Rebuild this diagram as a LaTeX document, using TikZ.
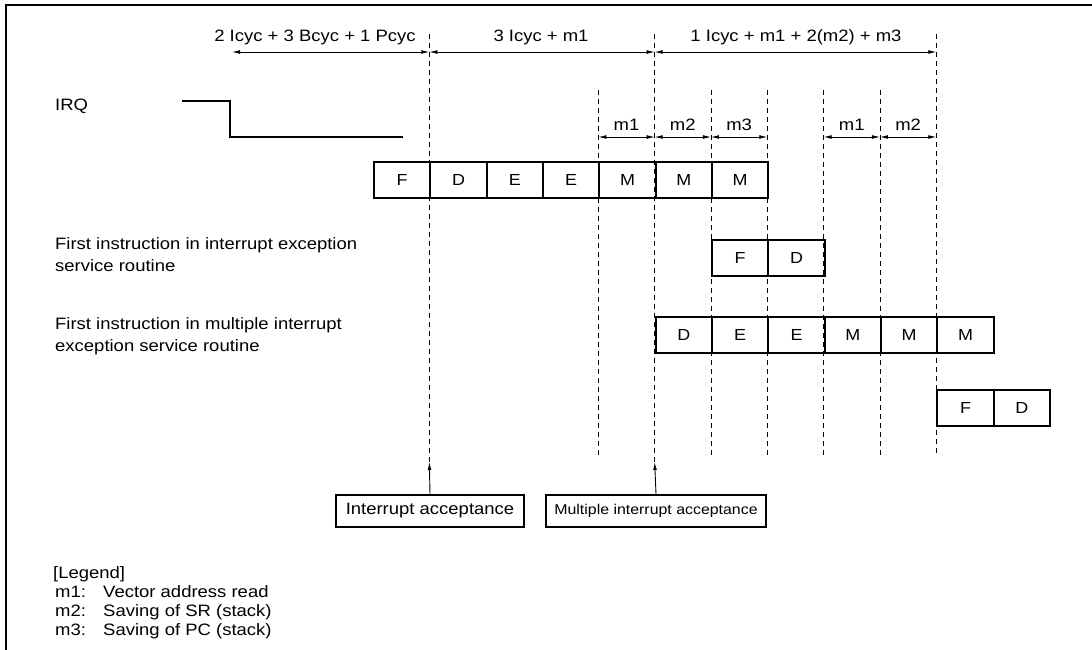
\documentclass[tikz,border=0pt]{standalone}
\usepackage{fontspec}
\setmainfont{Liberation Sans}[FakeStretch=1.12]
\usetikzlibrary{arrows.meta,calc}

\tikzset{
  txt/.style={font=\fontsize{16.5}{19}\selectfont, inner sep=0pt},
  cell/.style={draw, line width=2pt, minimum width=56.33pt, minimum height=36pt,
    anchor=north west, inner sep=0pt, font=\fontsize{16}{19}\selectfont},
  accbox/.style={draw, line width=2pt, minimum height=32pt, inner sep=0pt},
  guide/.style={line width=0.9pt, dash pattern=on 5pt off 4pt},
  dim/.style={<->, line width=0.8pt},
}

\begin{document}
\begin{tikzpicture}[x=1pt, y=-1pt, >={Latex[length=8pt,width=3.8pt]}]
    \useasboundingbox (0,0) rectangle (1092,650);

    % Frame (top and left only)
    \draw[line width=2pt] (6,650) -- (6,5) -- (1092,5);

    % Cycle boundaries
    \foreach \k in {0,...,12}
        \coordinate (t\k) at ({373+56.33*\k},0);

    % Pipeline stages
    \foreach \lab [count=\i from 0] in {F,D,E,E,M,M,M}
        \node[cell] (a\i) at ({373+56.33*\i},161) {\lab};
    \foreach \lab [count=\i from 0] in {F,D}
        \node[cell] (b\i) at ({711+56.33*\i},239) {\lab};
    \foreach \lab [count=\i from 0] in {D,E,E,M,M,M}
        \node[cell] (c\i) at ({654.67+56.33*\i},316) {\lab};
    \foreach \lab [count=\i from 0] in {F,D}
        \node[cell] (d\i) at ({936.3+56.33*\i},389) {\lab};

    % Acceptance boxes
    \node[accbox, minimum width=188pt, txt] (ia) at (430,511) {Interrupt acceptance};
    \node[accbox, minimum width=220pt, txt, font=\fontsize{14.2}{17}\selectfont]
        (mia) at (656,511) {Multiple interrupt acceptance};

    % Dashed guides
    \foreach \k in {1,5}
        \draw[guide] (t\k |- 0,34) -- (t\k |- 0,462);
    \draw[guide] (t10 |- 0,34) -- (t10 |- 0,455);
    \foreach \k in {4,6,7,8,9}
        \draw[guide] (t\k |- 0,90) -- (t\k |- 0,455);

    % Acceptance arrows
    \draw[->, line width=0.9pt] (ia.north) -- (t1 |- 0,462);
    \draw[->, line width=0.9pt] (mia.north) -- (t5 |- 0,462);

    % Overall timings
    \coordinate (s0) at (232,52);
    \draw[dim] (s0) -- (t1 |- 0,52);
    \draw[dim] (t1 |- 0,52) -- (t5 |- 0,52);
    \draw[dim] (t5 |- 0,52) -- (t10 |- 0,52);
    \node[txt, anchor=base] (l1) at (315,42) {2 Icyc + 3 Bcyc + 1 Pcyc};
    \node[txt, anchor=base] (l2) at (541,42) {3 Icyc + m1};
    \node[txt, anchor=base] (l3) at (796,42) {1 Icyc + m1 + 2(m2) + m3};

    % Memory cycles
    \foreach \a/\b/\m in {4/5/m1, 5/6/m2, 6/7/m3, 8/9/m1, 9/10/m2} {
        \draw[dim] (t\a |- 0,137) -- (t\b |- 0,137);
        \node[txt, anchor=base] (m\a) at ($(t\a)!0.5!(t\b) + (0,131)$) {\m};
    }

    % IRQ
    \node[txt, anchor=base west] (irq) at (55,111) {IRQ};
    \draw[line width=2pt] (182,101) -- (230,101) -- (230,137) -- (403,137);

    % Row labels
    \node[txt, anchor=base west] (r2a) at (55,249) {First instruction in interrupt exception};
    \node[txt, anchor=base west] (r2b) at (55,271) {service routine};
    \node[txt, anchor=base west] (r3a) at (55,329) {First instruction in multiple interrupt};
    \node[txt, anchor=base west] (r3b) at (55,351) {exception service routine};

    % Legend
    \node[txt, anchor=base west] (leg) at (53,578) {[Legend]};
    \foreach \m/\d [count=\i] in {m1/Vector address read, m2/Saving of SR (stack), m3/Saving of PC (stack)} {
        \node[txt, anchor=base west] (k\i) at (55,578+19*\i) {\m:};
        \node[txt, anchor=base west] (lg\i) at (103,578+19*\i) {\d};
    }
\end{tikzpicture}
\end{document}
